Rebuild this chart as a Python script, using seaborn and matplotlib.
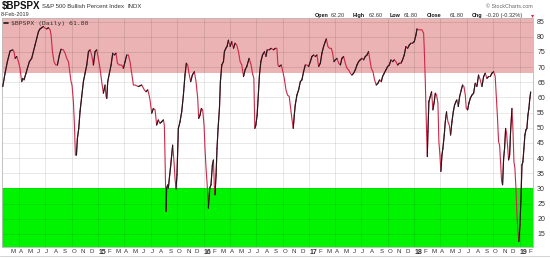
import matplotlib
matplotlib.use("Agg")
import matplotlib.pyplot as plt
import matplotlib.dates as mdates
from matplotlib.collections import LineCollection
from matplotlib.lines import Line2D
import numpy as np
import pandas as pd
import seaborn as sns

# ---------------- data ----------------
t_year = [
    2014.092, 2014.114, 2014.136, 2014.161, 2014.187, 2014.199, 2014.209, 2014.225, 2014.241, 2014.256,
    2014.272, 2014.282, 2014.294, 2014.313, 2014.326, 2014.345, 2014.367, 2014.383, 2014.399, 2014.415,
    2014.431, 2014.446, 2014.462, 2014.478, 2014.494, 2014.510, 2014.526, 2014.542, 2014.551, 2014.564,
    2014.579, 2014.595, 2014.611, 2014.630, 2014.646, 2014.668, 2014.684, 2014.700, 2014.716, 2014.731,
    2014.741, 2014.750, 2014.763, 2014.773, 2014.782, 2014.792, 2014.801, 2014.814, 2014.826, 2014.842,
    2014.858, 2014.874, 2014.890, 2014.906, 2014.921, 2014.937, 2014.953, 2014.969, 2014.985, 2015.000,
    2015.016, 2015.032, 2015.048, 2015.064, 2015.073, 2015.080, 2015.089, 2015.105, 2015.121, 2015.137,
    2015.152, 2015.168, 2015.181, 2015.200, 2015.222, 2015.238, 2015.254, 2015.270, 2015.285, 2015.301,
    2015.317, 2015.333,
    2015.349, 2015.380, 2015.412, 2015.437, 2015.453, 2015.469, 2015.482, 2015.491, 2015.507, 2015.523,
    2015.539, 2015.554, 2015.570, 2015.586, 2015.602, 2015.618, 2015.627, 2015.633, 2015.643, 2015.649,
    2015.659, 2015.665, 2015.678, 2015.687, 2015.697, 2015.706, 2015.719, 2015.728, 2015.738, 2015.747,
    2015.760, 2015.776, 2015.792, 2015.808, 2015.823, 2015.836, 2015.849, 2015.861, 2015.877, 2015.893,
    2015.912, 2015.928, 2015.944, 2015.953, 2015.966, 2015.979, 2015.991, 2016.004, 2016.013, 2016.023,
    2016.036, 2016.045, 2016.058, 2016.070, 2016.083, 2016.093, 2016.102, 2016.108, 2016.118, 2016.127,
    2016.137, 2016.150, 2016.159, 2016.172, 2016.188, 2016.197, 2016.210, 2016.222, 2016.235, 2016.251,
    2016.267, 2016.283, 2016.298, 2016.314, 2016.330, 2016.346, 2016.362, 2016.378, 2016.393,
    2016.409, 2016.431, 2016.450, 2016.463, 2016.476, 2016.485, 2016.495, 2016.507, 2016.520, 2016.529,
    2016.542, 2016.558, 2016.577, 2016.590, 2016.602, 2016.621, 2016.640, 2016.662, 2016.678, 2016.694,
    2016.704, 2016.716, 2016.735, 2016.751, 2016.764, 2016.780, 2016.795, 2016.811, 2016.824, 2016.836,
    2016.849, 2016.859, 2016.868, 2016.884, 2016.900, 2016.916, 2016.931, 2016.947, 2016.963, 2016.979,
    2016.995, 2017.011, 2017.026, 2017.042, 2017.058, 2017.074, 2017.090, 2017.106, 2017.121, 2017.137,
    2017.153, 2017.163, 2017.178, 2017.194, 2017.210, 2017.223, 2017.235, 2017.248, 2017.264, 2017.280,
    2017.296, 2017.311, 2017.327, 2017.343, 2017.359, 2017.375, 2017.391, 2017.406, 2017.422,
    2017.438, 2017.454, 2017.469, 2017.485, 2017.501, 2017.517, 2017.533, 2017.549, 2017.564, 2017.574,
    2017.590, 2017.606, 2017.621, 2017.637, 2017.653, 2017.669, 2017.685, 2017.697, 2017.713, 2017.729,
    2017.745, 2017.761, 2017.777, 2017.792, 2017.808, 2017.824, 2017.840, 2017.856, 2017.872, 2017.887,
    2017.903, 2017.919, 2017.935, 2017.951, 2017.967, 2017.982, 2017.998, 2018.014, 2018.024, 2018.039,
    2018.055, 2018.071, 2018.087, 2018.093, 2018.103, 2018.109, 2018.115, 2018.122, 2018.128, 2018.137,
    2018.150, 2018.163, 2018.175, 2018.188, 2018.198, 2018.210, 2018.223, 2018.232, 2018.242, 2018.251,
    2018.261, 2018.270, 2018.283, 2018.293, 2018.305, 2018.318, 2018.331, 2018.343, 2018.356, 2018.369,
    2018.381, 2018.394, 2018.403, 2018.416, 2018.429, 2018.445, 2018.457, 2018.470, 2018.483, 2018.492,
    2018.505, 2018.517,
    2018.530, 2018.546, 2018.562, 2018.577, 2018.593, 2018.609, 2018.625, 2018.641, 2018.657, 2018.672,
    2018.688, 2018.704, 2018.720, 2018.736, 2018.752, 2018.767, 2018.777, 2018.789, 2018.799, 2018.809,
    2018.818, 2018.828, 2018.837, 2018.847, 2018.856, 2018.866, 2018.875, 2018.884, 2018.894, 2018.904,
    2018.913, 2018.926, 2018.935, 2018.945, 2018.954, 2018.964, 2018.973, 2018.983, 2018.992, 2019.002,
    2019.011, 2019.021, 2019.030, 2019.040, 2019.049, 2019.059, 2019.068, 2019.078, 2019.087, 2019.096,
    2019.104,
]
bpi = [
    63.6, 68.0, 71.8, 75.3, 75.7, 75.1, 72.9, 73.5, 71.8, 69.6,
    65.2, 66.3, 65.8, 68.0, 69.6, 71.8, 72.9, 75.1, 77.3, 79.5,
    81.7, 82.6, 83.0, 83.4, 82.8, 82.6, 83.0, 82.3, 80.6, 75.1,
    71.8, 70.7, 70.7, 74.0, 75.9, 75.7, 74.6, 72.9, 71.8, 68.0,
    65.2, 64.1, 58.6, 50.9, 41.0, 41.0, 46.5, 49.8, 55.3, 60.3,
    65.2, 68.0, 70.7, 75.1, 75.7, 74.0, 70.7, 75.1, 75.7, 72.9,
    69.6, 65.2, 61.4, 64.1, 60.3, 59.7, 65.2, 68.0, 70.7, 74.6,
    74.0, 74.6, 71.3, 70.7, 70.7, 69.6, 71.8, 74.0, 74.0, 71.8,
    68.0, 64.1,
    64.1, 63.6, 64.1, 62.5, 61.9, 62.5, 60.8, 59.2, 54.8, 56.4,
    55.9, 50.9, 52.6, 51.5, 52.0, 52.6, 50.9, 41.0, 22.4, 30.1,
    31.2, 30.1, 34.5, 37.2, 41.0, 44.3, 38.8, 33.4, 29.8, 34.5,
    49.8, 52.0, 55.3, 60.8, 67.4, 71.3, 70.7, 68.0, 65.2, 67.4,
    68.5, 65.2, 59.7, 53.1, 54.2, 56.4, 55.9, 50.9, 43.2, 36.7,
    30.1, 23.5, 30.1, 31.2, 37.7, 39.4, 30.1, 27.9, 34.5, 43.2,
    49.8, 56.4, 65.2, 70.7, 71.8, 75.1, 76.2, 76.8, 78.9, 76.8,
    78.4, 76.2, 77.9, 77.3, 75.1, 71.8, 70.7, 66.9, 69.1,
    70.2, 72.9, 70.7, 68.0, 66.3, 49.8, 50.9, 54.2, 61.9, 67.4,
    71.8, 74.0, 75.1, 73.5, 75.7, 75.7, 76.2, 75.7, 76.2, 76.2,
    70.7, 70.2, 70.7, 68.5, 66.3, 62.5, 60.8, 60.3, 56.4, 53.1,
    49.8, 54.2, 57.5, 60.8, 62.5, 65.2, 65.8, 68.5, 70.7, 70.7,
    70.2, 71.8, 73.5, 74.0, 73.5, 74.0, 70.2, 71.3, 74.6, 76.8,
    78.4, 79.3, 76.8, 76.2, 76.2, 74.6, 71.8, 72.4, 72.9, 71.3,
    70.7, 72.9, 73.5, 71.3, 69.6, 69.1, 68.0, 67.4, 68.0,
    69.1, 70.7, 71.8, 72.4, 72.9, 72.4, 73.5, 74.0, 75.1, 72.9,
    69.6, 68.5, 65.8, 64.1, 64.7, 65.8, 65.2, 66.9, 68.0, 69.1,
    70.2, 70.7, 72.4, 71.8, 72.4, 71.8, 70.7, 71.3, 71.3, 72.4,
    74.0, 76.8, 76.2, 77.3, 77.9, 77.9, 78.4, 80.6, 82.6, 82.3,
    82.3, 82.3, 81.2, 76.2, 65.2, 56.4, 48.7, 40.5, 48.7, 58.6,
    60.3, 61.9, 55.9, 58.6, 61.4, 60.8, 58.1, 45.4, 41.0, 35.6,
    41.0, 43.2, 47.6, 52.0, 55.3, 52.0, 50.9, 47.6, 52.0, 55.3,
    57.5, 58.6, 59.2, 57.0, 60.3, 62.5, 64.1, 63.6, 60.8, 56.4,
    55.9, 58.1,
    59.7, 60.8, 61.4, 64.7, 63.6, 67.4, 65.8, 63.6, 66.9, 68.0,
    66.3, 66.9, 66.9, 68.0, 68.5, 66.9, 60.8, 53.1, 45.4, 44.3,
    38.8, 32.3, 31.2, 39.9, 43.2, 49.8, 48.2, 44.3, 39.4, 41.0,
    48.7, 56.4, 49.8, 38.8, 36.7, 30.1, 21.3, 15.8, 12.5, 18.0,
    25.7, 37.7, 38.8, 43.2, 47.6, 49.3, 49.8, 54.2, 56.4, 59.7,
    61.8,
]
band_overbought = [68, 100]
band_oversold = [0, 30]
y_ticks = [15, 20, 25, 30, 35, 40, 45, 50, 55, 60, 65, 70, 75, 80, 85]
title_symbol = "$BPSPX"
title_name = "S&P 500 Bullish Percent Index"
title_exchange = "INDX"
date_label = "8-Feb-2019"
legend_label = "$BPSPX (Daily) 61.80"
quote_labels = ["Open", "High", "Low", "Close", "Chg"]
quote_values = ["62.20", "62.60", "61.80", "61.80", "-0.20 (-0.32%)"]
credit = "\u00a9 StockCharts.com"

# ---------------- helpers ----------------
def year_to_date(y):
    yr = int(np.floor(y))
    start = pd.Timestamp(yr, 1, 1)
    end = pd.Timestamp(yr + 1, 1, 1)
    return start + (end - start) * (y - yr)

dates = pd.to_datetime([year_to_date(y) for y in t_year])
df = pd.DataFrame({"date": dates, "bpi": bpi})

RED = "#cc2848"
BLACK = "#1a1a1a"
PINK = "#ebb3b3"
GREEN = "#00f400"
TXT = "#333333"

sns.set_theme(style="white")
plt.rcParams["font.family"] = ["Liberation Sans", "DejaVu Sans"]

W, H = 550, 258
fig = plt.figure(figsize=(W / 100, H / 100), dpi=100)
L, R, T, B = 2, 533, 18.3, 247
ax = fig.add_axes([L / W, 1 - B / H, (R - L) / W, (B - T) / H])

ax.set_ylim(10.7, 86.1)
ax.set_xlim(pd.Timestamp("2014-02-01"), pd.Timestamp("2019-02-16"))

# bands
ax.axhspan(band_overbought[0], band_overbought[1], color=PINK, lw=0, zorder=0.2)
ax.axhspan(band_oversold[0], band_oversold[1], color=GREEN, lw=0, zorder=0.2)

# line: seaborn draws the falling (red) colour, rising segments overlaid in black
sns.lineplot(data=df, x="date", y="bpi", ax=ax, color=RED, lw=0.8,
             label=legend_label, zorder=3)
xnum = mdates.date2num(df["date"])
vals = df["bpi"].to_numpy()
segs = [[(xnum[i], vals[i]), (xnum[i + 1], vals[i + 1])]
        for i in range(len(vals) - 1) if vals[i + 1] > vals[i]]
ax.add_collection(LineCollection(segs, colors=BLACK, linewidths=0.8, zorder=4,
                                 capstyle="round"))

# grid
ax.set_axisbelow(True)
ax.yaxis.grid(True, color="black", alpha=0.11, lw=0.6)
quarters = pd.date_range("2014-04-01", "2019-01-01", freq="QS")
for q in quarters:
    ax.axvline(q, color="black", alpha=0.11, lw=0.6, zorder=0.5)

# y ticks on the right
ax.yaxis.tick_right()
ax.set_yticks(y_ticks)
ax.set_yticklabels([str(v) for v in y_ticks])
ax.tick_params(axis="y", length=0, pad=3, labelsize=5, labelcolor=TXT)

# x ticks: month letters, bold two-digit year at January
months = pd.date_range("2014-03-01", "2019-02-01", freq="MS")
labels = [m.strftime("%y") if m.month == 1 else m.strftime("%b")[0] for m in months]
ax.set_xticks(months)
ax.set_xticklabels(labels)
ax.tick_params(axis="x", length=0, pad=1.5, labelsize=4.4, labelcolor=TXT)
for lab, m in zip(ax.get_xticklabels(), months):
    lab.set_horizontalalignment("left")
    if m.month == 1:
        lab.set_fontweight("bold")
        lab.set_fontsize(5)
ax.set_xlabel("")
ax.set_ylabel("")

for s in ax.spines.values():
    s.set_color("#b8b8b8")
    s.set_linewidth(0.6)

# legend
leg = ax.legend(loc="upper left", frameon=False,
                prop={"family": "DejaVu Sans Mono", "size": 4.6},
                handlelength=0.6, handletextpad=0.5, borderaxespad=0.25,
                borderpad=0.1)
for h in leg.legend_handles:
    h.set_color(BLACK)
    h.set_linewidth(1.2)
for t in leg.get_texts():
    t.set_color(TXT)

# header
def fx(px):
    return px / W

def fy(py):
    return 1 - py / H

fig.text(fx(1.5), fy(6.3), title_symbol, fontsize=7.0, fontweight="bold",
         va="center", ha="left", color="#111111")
fig.text(fx(41.5), fy(6.8), title_name, fontsize=4.3, va="center", ha="left", color=TXT)
fig.text(fx(128), fy(6.8), title_exchange, fontsize=4.3, va="center", ha="left", color=TXT)
fig.text(fx(0.5), fy(14.5), date_label, fontsize=4.0, va="center", ha="left", color=TXT)
fig.text(fx(533), fy(6.5), credit, fontsize=3.9, va="center", ha="right", color="#666666")

label_x = [314.3, 352.3, 390, 426.7, 471.7]
value_x = [331, 369, 403.5, 450, 486]
for lx, lab in zip(label_x, quote_labels):
    fig.text(fx(lx), fy(15.5), lab, fontsize=3.9, fontweight="bold", va="center",
             ha="left", color="#111111")
for vx, v in zip(value_x, quote_values):
    fig.text(fx(vx), fy(15.5), v, fontsize=4.1, va="center", ha="left", color=TXT)
fig.text(fx(532.5), fy(15.8), "\u25be", fontsize=4.5, va="center", ha="center", color=RED)

fig.add_artist(Line2D([0, 1], [fy(255.5), fy(255.5)], color="#cccccc", lw=0.6,
                      transform=fig.transFigure))

fig.savefig("out.png", dpi=100)
